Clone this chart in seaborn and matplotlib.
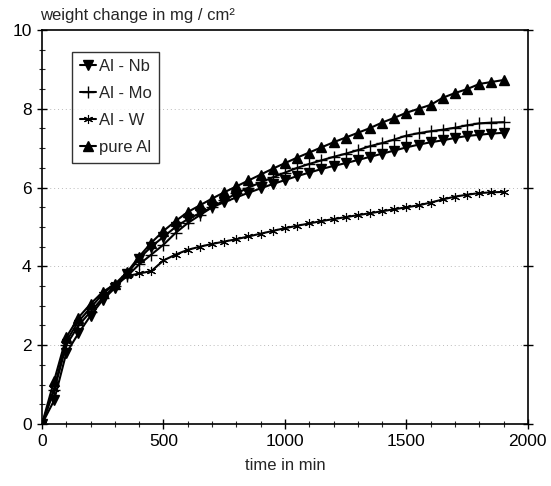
import numpy as np
import pandas as pd
import matplotlib
matplotlib.use("Agg")
import matplotlib.pyplot as plt
import seaborn as sns
from matplotlib.ticker import MultipleLocator

# time in min (markers every 50 min)
time = list(range(0, 1901, 50))

al_nb = [0.0, 0.6, 1.8, 2.3, 2.75, 3.15, 3.45, 3.8, 4.2, 4.5, 4.75, 5.0, 5.2, 5.35, 5.5,
         5.63, 5.75, 5.87, 5.98, 6.09, 6.19, 6.29, 6.38, 6.47, 6.55, 6.62, 6.7, 6.78,
         6.86, 6.94, 7.02, 7.09, 7.15, 7.2, 7.26, 7.31, 7.34, 7.37, 7.39]
al_mo = [0.0, 0.85, 2.0, 2.5, 2.85, 3.2, 3.5, 3.75, 4.05, 4.3, 4.55, 4.85, 5.1, 5.3, 5.5,
         5.68, 5.85, 6.0, 6.13, 6.26, 6.38, 6.5, 6.6, 6.69, 6.78, 6.86, 6.95, 7.05,
         7.13, 7.22, 7.32, 7.38, 7.43, 7.47, 7.52, 7.58, 7.63, 7.65, 7.66]
al_w = [0.0, 0.9, 2.1, 2.6, 2.95, 3.3, 3.55, 3.75, 3.82, 3.88, 4.15, 4.3, 4.42, 4.5, 4.57,
        4.63, 4.69, 4.76, 4.83, 4.9, 4.97, 5.03, 5.09, 5.15, 5.2, 5.25, 5.3, 5.35,
        5.4, 5.45, 5.5, 5.55, 5.62, 5.7, 5.77, 5.82, 5.86, 5.88, 5.89]
pure_al = [0.0, 1.1, 2.2, 2.7, 3.05, 3.35, 3.55, 3.85, 4.25, 4.6, 4.9, 5.15, 5.38, 5.55, 5.72,
           5.88, 6.03, 6.18, 6.33, 6.48, 6.62, 6.76, 6.89, 7.02, 7.15, 7.27, 7.39, 7.51,
           7.65, 7.77, 7.9, 8.0, 8.1, 8.28, 8.4, 8.5, 8.63, 8.68, 8.73]

series_names = ["Al - Nb", "Al - Mo", "Al - W", "pure Al"]
series_values = [al_nb, al_mo, al_w, pure_al]

x_ticks = [0, 500, 1000, 1500, 2000]
y_ticks = [0, 2, 4, 6, 8, 10]

sns.set_style("ticks")
plt.rcParams["font.family"] = ["Liberation Sans", "DejaVu Sans"]

fig = plt.figure(figsize=(5.51, 4.86), dpi=100)
ax = fig.add_axes([0.0762, 0.1276, 0.8818, 0.8107])

marker_styles = {"Al - Nb": "v", "Al - Mo": "+", "Al - W": (6, 2, 0), "pure Al": "^"}
marker_sizes = {"Al - Nb": 7, "Al - Mo": 9, "Al - W": 6.5, "pure Al": 7}
marker_ew = {"Al - Nb": 1.0, "Al - Mo": 1.0, "Al - W": 0.8, "pure Al": 1.0}

for name, vals in zip(series_names, series_values):
    d = pd.DataFrame({"time": time, "weight": vals})
    sns.lineplot(data=d, x="time", y="weight", color="black",
                 marker=marker_styles[name], markersize=marker_sizes[name],
                 mec="black", mfc="black", mew=marker_ew[name], linewidth=1.5,
                 ax=ax, label=name)

ax.set_xlim(0, 2000)
ax.set_ylim(0, 10)
ax.set_xticks(x_ticks)
ax.set_yticks(y_ticks)
ax.xaxis.set_minor_locator(MultipleLocator(100))
ax.yaxis.set_minor_locator(MultipleLocator(0.5))
ax.tick_params(axis="both", which="major", direction="inout", length=7, width=1,
               labelsize=12.5, colors="black", right=True, top=False)
ax.tick_params(axis="both", which="minor", direction="inout", length=4, width=0.8,
               right=False, top=False)
ax.tick_params(axis="y", which="major", pad=4)
ax.tick_params(axis="x", which="major", pad=4)

for sp in ax.spines.values():
    sp.set_visible(True)
    sp.set_color("black")
    sp.set_linewidth(1.2)

for yv in [2, 4, 6, 8]:
    ax.axhline(yv, color="#bbbbbb", lw=0.7, ls=(0, (1, 3)), zorder=0)

ax.set_xlabel("time in min", fontsize=12, labelpad=6)
ax.set_ylabel("")
fig.text(0.073, 0.968, "weight change in mg / cm²", fontsize=12, ha="left", va="center")

handles, labels = ax.get_legend_handles_labels()
hmap = dict(zip(labels, handles))
leg = ax.legend([hmap[n] for n in series_names], series_names,
                loc="upper left", bbox_to_anchor=(0.062, 0.945),
                frameon=True, fancybox=False, edgecolor="black", fontsize=12,
                handlelength=1.0, handletextpad=0.15, borderpad=0.45,
                labelspacing=0.72, borderaxespad=0)
leg.get_frame().set_linewidth(1.0)

fig.savefig("out.png", dpi=100)
